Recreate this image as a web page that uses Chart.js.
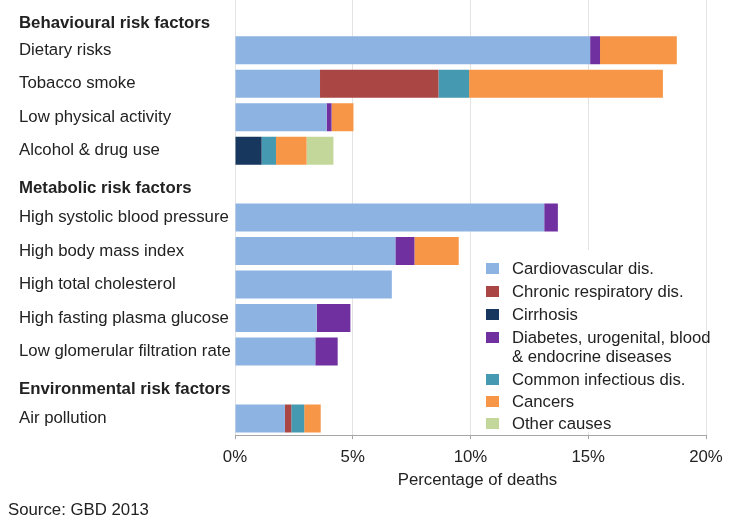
<!DOCTYPE html>
<html>
<head>
<meta charset="utf-8">
<script src="https://cdn.jsdelivr.net/npm/chart.js@4.4.1/dist/chart.umd.min.js"></script>
<style>
  html, body { margin: 0; padding: 0; background: #fff; }
  #wrap { position: relative; width: 740px; height: 526px; font-family: "Liberation Sans", Arial, sans-serif; color: #222; }
  #legend { position: absolute; left: 478px; top: 250px; width: 222px; height: 182px; background: #fff; padding-top: 9px; box-sizing: border-box; }
  .item { position: relative; padding-left: 34px; margin-bottom: 4px; font-size: 16.7px; line-height: 19px; white-space: nowrap; }
  .item.tight { margin-bottom: 3px; }
  .sw { position: absolute; left: 8px; top: 4px; width: 13px; height: 11px; }
  #source { position: absolute; left: 8px; top: 500px; font-size: 16.8px; line-height: 20px; }
</style>
</head>
<body>
<div id="wrap">
  <canvas id="c" width="740" height="526"></canvas>
  <div id="legend"></div>
  <div id="source">Source: GBD 2013</div>
</div>
<script>
const categories = ['Behavioural risk factors','Dietary risks','Tobacco smoke','Low physical activity','Alcohol & drug use','Metabolic risk factors','High systolic blood pressure','High body mass index','High total cholesterol','High fasting plasma glucose','Low glomerular filtration rate','Environmental risk factors','Air pollution'];
const headers = ['Behavioural risk factors','Metabolic risk factors','Environmental risk factors'];

const cardiovascular = [null, 15.08, 3.61, 3.89, null, null, 13.13, 6.81, 6.66, 3.47, 3.41, null, 2.12];
const chronicRespiratory = [null, null, 5.03, null, null, null, null, null, null, null, null, null, 0.27];
const cirrhosis = [null, null, null, null, 1.13, null, null, null, null, null, null, null, null];
const diabetes = [null, 0.42, null, 0.21, null, null, 0.58, 0.81, null, 1.43, 0.95, null, null];
const infectious = [null, null, 1.30, null, 0.61, null, null, null, null, null, null, null, 0.55];
const cancers = [null, 3.26, 8.23, 0.93, 1.30, null, null, 1.88, null, null, null, null, 0.70];
const otherCauses = [null, null, null, null, 1.14, null, null, null, null, null, null, null, null];

const xTicks = [0, 5, 10, 15, 20];

const seriesNames = ['Cardiovascular dis.','Chronic respiratory dis.','Cirrhosis','Diabetes, urogenital, blood & endocrine diseases','Common infectious dis.','Cancers','Other causes'];
const seriesColors = ['#8db3e2','#aa4644','#17375e','#7030a0','#4599b1','#f79646','#c4d79b'];
const seriesData = [cardiovascular, chronicRespiratory, cirrhosis, diabetes, infectious, cancers, otherCauses];

const FONT = '"Liberation Sans", Arial, sans-serif';
const isHeader = i => headers.includes(categories[i]);

new Chart(document.getElementById('c'), {
  type: 'bar',
  data: {
    labels: categories,
    datasets: seriesNames.map((n, i) => ({
      label: n,
      data: seriesData[i],
      backgroundColor: seriesColors[i],
      borderWidth: 0,
      barPercentage: 0.836,
      categoryPercentage: 1.0
    }))
  },
  options: {
    indexAxis: 'y',
    responsive: false,
    animation: false,
    layout: { padding: { left: 19, right: 34, top: 0, bottom: 35.5 } },
    plugins: { legend: { display: false }, tooltip: { enabled: false } },
    scales: {
      x: {
        stacked: true,
        min: xTicks[0],
        max: xTicks[xTicks.length - 1],
        ticks: {
          stepSize: 5,
          callback: v => v + '%',
          font: { family: FONT, size: 16.8 },
          color: '#222',
          padding: 8.5,
          maxRotation: 0
        },
        grid: { color: '#e3e3e3', tickColor: '#a6a6a6', tickLength: 4 },
        border: { display: true, color: '#a6a6a6', width: 1 },
        title: {
          display: true,
          text: '   Percentage of deaths',
          font: { family: FONT, size: 16.8 },
          color: '#222',
          padding: { top: -6, bottom: 0 }
        }
      },
      y: {
        stacked: true,
        grid: { display: false },
        border: { display: false },
        ticks: {
          autoSkip: false,
          crossAlign: 'far',
          color: '#222',
          callback: function (v, i) { return isHeader(i) ? ['', categories[i]] : categories[i]; },
          font: ctx => {
            const h = isHeader(ctx.index);
            return {
              family: FONT, size: 16.8,
              weight: h ? 'bold' : 'normal',
              lineHeight: h ? (ctx.index === 0 ? '14px' : '8px') : 1.2
            };
          }
        },
        afterFit: s => { s.width = 216; s.paddingTop = 0; s.paddingBottom = 0; }
      }
    }
  }
});

const legend = document.getElementById('legend');
seriesNames.forEach((n, i) => {
  const d = document.createElement('div');
  d.className = 'item' + (i >= 4 ? ' tight' : '');
  const sw = document.createElement('span');
  sw.className = 'sw';
  sw.style.background = seriesColors[i];
  d.appendChild(sw);
  const t = document.createElement('span');
  if (i === 3) {
    t.innerHTML = 'Diabetes, urogenital, blood<br>&amp; endocrine diseases';
  } else {
    t.textContent = n;
  }
  d.appendChild(t);
  legend.appendChild(d);
});
</script>
</body>
</html>
